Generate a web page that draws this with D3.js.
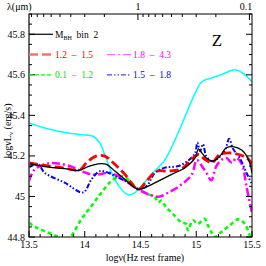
<!DOCTYPE html>
<meta charset="utf-8">
<script src="https://d3js.org/d3.v7.min.js"></script>
<style>
  body { margin: 0; background: #fff; }
  svg { display: block; }
  text { font-family: "Liberation Serif", "DejaVu Serif", serif; }
</style>
<div id="chart"></div>
<script>
// log nu (Hz, rest frame) and log nuL_nu values
var cyanX  = [13.5, 13.64, 13.82, 13.97, 14.075, 14.135, 14.195, 14.255, 14.315, 14.39, 14.45, 14.495, 14.6, 14.72, 14.81, 14.9, 14.99, 15.05, 15.14, 15.23, 15.345, 15.42, 15.5];
var cyanY  = [45.362, 45.338, 45.316, 45.305, 45.297, 45.264, 45.182, 45.10, 45.044, 45.008, 45.019, 45.044, 45.109, 45.182, 45.28, 45.395, 45.51, 45.566, 45.585, 45.602, 45.625, 45.607, 45.566];

var blackX = [13.5, 13.64, 13.82, 13.94, 14.03, 14.12, 14.195, 14.27, 14.36, 14.48, 14.57, 14.66, 14.78, 14.9, 14.99, 15.02, 15.05, 15.09, 15.15, 15.21, 15.27, 15.34, 15.41, 15.47, 15.5];
var blackY = [45.162, 45.147, 45.137, 45.128, 45.147, 45.161, 45.158, 45.125, 45.084, 45.035, 45.051, 45.076, 45.109, 45.142, 45.19, 45.235, 45.215, 45.19, 45.174, 45.198, 45.24, 45.245, 45.228, 45.18, 45.115];

var redX   = [13.5, 13.64, 13.82, 13.955, 14.015, 14.105, 14.18, 14.255, 14.36, 14.48, 14.555, 14.645, 14.75, 14.87, 14.97, 15.02, 15.08, 15.14, 15.21, 15.29, 15.38, 15.455, 15.5];
var redY   = [45.165, 45.153, 45.14, 45.13, 45.166, 45.20, 45.199, 45.166, 45.109, 45.035, 45.076, 45.125, 45.125, 45.137, 45.19, 45.207, 45.182, 45.166, 45.207, 45.215, 45.207, 45.19, 45.16];

var blueX  = [13.5, 13.58, 13.64, 13.82, 13.985, 14.06, 14.135, 14.21, 14.3, 14.39, 14.48, 14.555, 14.63, 14.72, 14.84, 14.94, 14.99, 15.01, 15.035, 15.06, 15.09, 15.14, 15.2, 15.26, 15.295, 15.33, 15.39, 15.45, 15.5];
var blueY  = [45.143, 45.159, 45.117, 45.068, 45.02, 45.084, 45.125, 45.117, 45.093, 45.068, 45.035, 45.051, 45.117, 45.142, 45.15, 45.182, 45.215, 45.266, 45.223, 45.258, 45.199, 45.174, 45.19, 45.231, 45.285, 45.235, 45.19, 45.117, 45.06];

var magX   = [13.5, 13.55, 13.67, 13.76, 13.88, 13.97, 14.06, 14.135, 14.21, 14.3, 14.39, 14.48, 14.57, 14.66, 14.75, 14.87, 14.96, 15.005, 15.05, 15.09, 15.135, 15.18, 15.23, 15.27, 15.32, 15.36, 15.41, 15.45, 15.5];
var magY   = [45.075, 45.133, 45.163, 45.163, 45.147, 45.125, 45.109, 45.109, 45.117, 45.10, 45.068, 45.035, 45.011, 44.999, 45.019, 45.06, 45.109, 45.18, 45.15, 45.117, 45.08, 45.15, 45.182, 45.19, 45.166, 45.19, 45.158, 45.05, 44.92];

var greenX = [13.5, 13.58, 13.7, 13.76, 13.82, 13.88, 13.97, 14.06, 14.15, 14.24, 14.33, 14.405, 14.48, 14.565, 14.63, 14.66, 14.685, 14.73, 14.79, 14.865, 14.91, 14.925, 14.97, 15.015, 15.075, 15.105, 15.135, 15.165, 15.225, 15.3, 15.375, 15.435, 15.48, 15.5];
var greenY = [44.87, 44.843, 44.815, 44.80, 44.78, 44.806, 44.888, 44.953, 45.019, 45.076, 45.10, 45.076, 45.035, 45.012, 44.996, 44.97, 44.98, 44.947, 44.914, 44.873, 44.865, 44.833, 44.882, 44.865, 44.89, 44.857, 44.825, 44.80, 44.825, 44.857, 44.887, 44.865, 44.808, 44.78];

var yTicks = [44.8, 45, 45.2, 45.4, 45.6, 45.8];
var xTicks = [13.5, 14, 14.5, 15, 15.5];
var lamTicks = [10, 9, 8, 7, 6, 5, 4, 3, 2, 1, 0.9, 0.8, 0.7, 0.6, 0.5, 0.4, 0.3, 0.2, 0.1];
var lamLabels = [1, 0.1];

var series = [
  {x: cyanX,  y: cyanY,  color: "#00ffff", width: 1.5, dash: null},
  {x: greenX, y: greenY, color: "#00ff00", width: 2.5, dash: "4,3"},
  {x: magX,   y: magY,   color: "#ff00ff", width: 2.5, dash: "8,3,2,3"},
  {x: blueX,  y: blueY,  color: "#0000ff", width: 2,   dash: "5,2,1.5,2,1.5,2"},
  {x: redX,   y: redY,   color: "#ff0000", width: 2.8, dash: "9,4"},
  {x: blackX, y: blackY, color: "#000000", width: 1.3, dash: null}
];

var sep = "\u2002\u2013\u2002";
var legend = [
  {label: "M", sub: "BH", rest: "\u2002bin\u20022", color: "#000", lc: "#000000", width: 1.2, dash: null, col: 0, row: 0},
  {label: "1.2" + sep + "1.5", color: "#ff0000", lc: "#ff7070", width: 2.5, dash: "9,4", col: 0, row: 1},
  {label: "0.1" + sep + "1.2", color: "#00e000", lc: "#00ff00", width: 1.2, dash: "4,2", col: 0, row: 2},
  {label: "1.8" + sep + "4.3", color: "#ff00ff", lc: "#ff66ff", width: 1.2, dash: "8,3,2,3", col: 1, row: 1},
  {label: "1.5" + sep + "1.8", color: "#0000ff", lc: "#4444ff", width: 1.2, dash: "5,2,1.5,2,1.5,2", col: 1, row: 2}
];

var W = 266, H = 266;
var m = {left: 29, right: 14, top: 14, bottom: 29};

var svg = d3.select("#chart").append("svg")
  .attr("width", W).attr("height", H);

var x = d3.scaleLinear().domain([13.5, 15.5]).range([m.left, W - m.right]);
var y = d3.scaleLinear().domain([44.8, 45.9]).range([H - m.bottom, m.top]);

svg.append("defs").append("clipPath").attr("id", "clip")
  .append("rect")
  .attr("x", m.left).attr("y", m.top)
  .attr("width", W - m.left - m.right).attr("height", H - m.top - m.bottom);

var line = d3.line()
  .x(function (d) { return x(d[0]); })
  .y(function (d) { return y(d[1]); })
  .curve(d3.curveCatmullRom.alpha(0.5));

var g = svg.append("g").attr("clip-path", "url(#clip)");
series.forEach(function (s) {
  var pts = s.x.map(function (v, i) { return [v, s.y[i]]; });
  g.append("path")
    .datum(pts)
    .attr("d", line)
    .attr("fill", "none")
    .attr("stroke", s.color)
    .attr("stroke-width", s.width)
    .attr("stroke-dasharray", s.dash)
    .attr("stroke-linejoin", "round");
});

// frame
var x0 = x.range()[0], x1 = x.range()[1], y0 = y.range()[0], y1 = y.range()[1];
svg.append("rect")
  .attr("x", x0).attr("y", y1)
  .attr("width", x1 - x0).attr("height", y0 - y1)
  .attr("fill", "none").attr("stroke", "#000").attr("stroke-width", 1);
svg.append("line").attr("x1", x0).attr("x2", x0).attr("y1", y0).attr("y2", y1)
  .attr("stroke", "#666").attr("stroke-width", 1.6);

// y ticks (left and right, inward)
var yMinor = d3.range(44.8, 45.9001, 0.05);
yMinor.forEach(function (v) {
  var major = Math.abs(Math.round(v * 5) - v * 5) < 1e-6;
  var len = major ? 6 : 3;
  svg.append("line").attr("x1", x0).attr("x2", x0 + len)
    .attr("y1", y(v)).attr("y2", y(v)).attr("stroke", "#000");
  svg.append("line").attr("x1", x1).attr("x2", x1 - len)
    .attr("y1", y(v)).attr("y2", y(v)).attr("stroke", "#000");
});
svg.selectAll(".ylab").data(yTicks).enter().append("text")
  .attr("x", x0 - 4).attr("y", function (d) { return y(d) + 3.5; })
  .attr("text-anchor", "end").style("font-size", "10px")
  .text(function (d) { return d; });

// x ticks (bottom, inward)
var xMinor = d3.range(13.5, 15.5001, 0.1);
xMinor.forEach(function (v) {
  var major = Math.abs(Math.round(v * 2) - v * 2) < 1e-6;
  var len = major ? 6 : 3;
  svg.append("line").attr("x1", x(v)).attr("x2", x(v))
    .attr("y1", y0).attr("y2", y0 - len).attr("stroke", "#000");
});
svg.selectAll(".xlab").data(xTicks).enter().append("text")
  .attr("x", function (d) { return x(d); }).attr("y", y0 + 11)
  .attr("text-anchor", "middle").style("font-size", "10px")
  .text(function (d) { return d; });

// top axis: wavelength in micron
var lamToNu = function (l) { return Math.log10(2.998e14 / l); };
lamTicks.forEach(function (l) {
  var v = lamToNu(l);
  if (v < 13.5 || v > 15.5) return;
  var major = lamLabels.indexOf(l) >= 0;
  svg.append("line").attr("x1", x(v)).attr("x2", x(v))
    .attr("y1", y1).attr("y2", y1 + (major ? 6 : 3)).attr("stroke", "#000");
});
lamLabels.forEach(function (l) {
  svg.append("text")
    .attr("x", Math.min(x(lamToNu(l)), x1 - 6)).attr("y", y1 - 4)
    .attr("text-anchor", "middle").style("font-size", "10px")
    .text(l);
});
svg.append("text").attr("x", 7).attr("y", y1 - 4)
  .style("font-size", "10px").text("\u03bb(\u03bcm)");

// axis titles
svg.append("text").attr("x", 145).attr("y", H - 5)
  .attr("text-anchor", "middle").style("font-size", "10px")
  .text("log\u03bd(Hz rest frame)");

var yt = svg.append("text")
  .attr("transform", "translate(11,131) rotate(-90)")
  .attr("text-anchor", "middle").style("font-size", "10px");
yt.append("tspan").text("log\u03bdL");
yt.append("tspan").attr("dy", 2).style("font-size", "7px").text("\u03bd");
yt.append("tspan").attr("dy", -2).text(" (erg/s)");

// panel letter
svg.append("text").attr("x", 217).attr("y", 46)
  .attr("text-anchor", "middle").style("font-size", "17px")
  .text("Z");

// legend
var colX = [x0, 107], rowY = [y(45.8), y(45.7), y(45.6)];
legend.forEach(function (d) {
  var lx = colX[d.col], ly = rowY[d.row];
  svg.append("line").attr("x1", lx).attr("x2", lx + 24)
    .attr("y1", ly).attr("y2", ly)
    .attr("stroke", d.lc).attr("stroke-width", d.width)
    .attr("stroke-dasharray", d.dash);
  var t = svg.append("text").attr("x", lx + 26).attr("y", ly + 3.5)
    .style("font-size", "9.5px").attr("fill", d.color);
  t.append("tspan").text(d.label);
  if (d.sub) {
    t.append("tspan").attr("dy", 2).style("font-size", "6px").text(d.sub);
    t.append("tspan").attr("dy", -2).text(d.rest);
  }
});
</script>
